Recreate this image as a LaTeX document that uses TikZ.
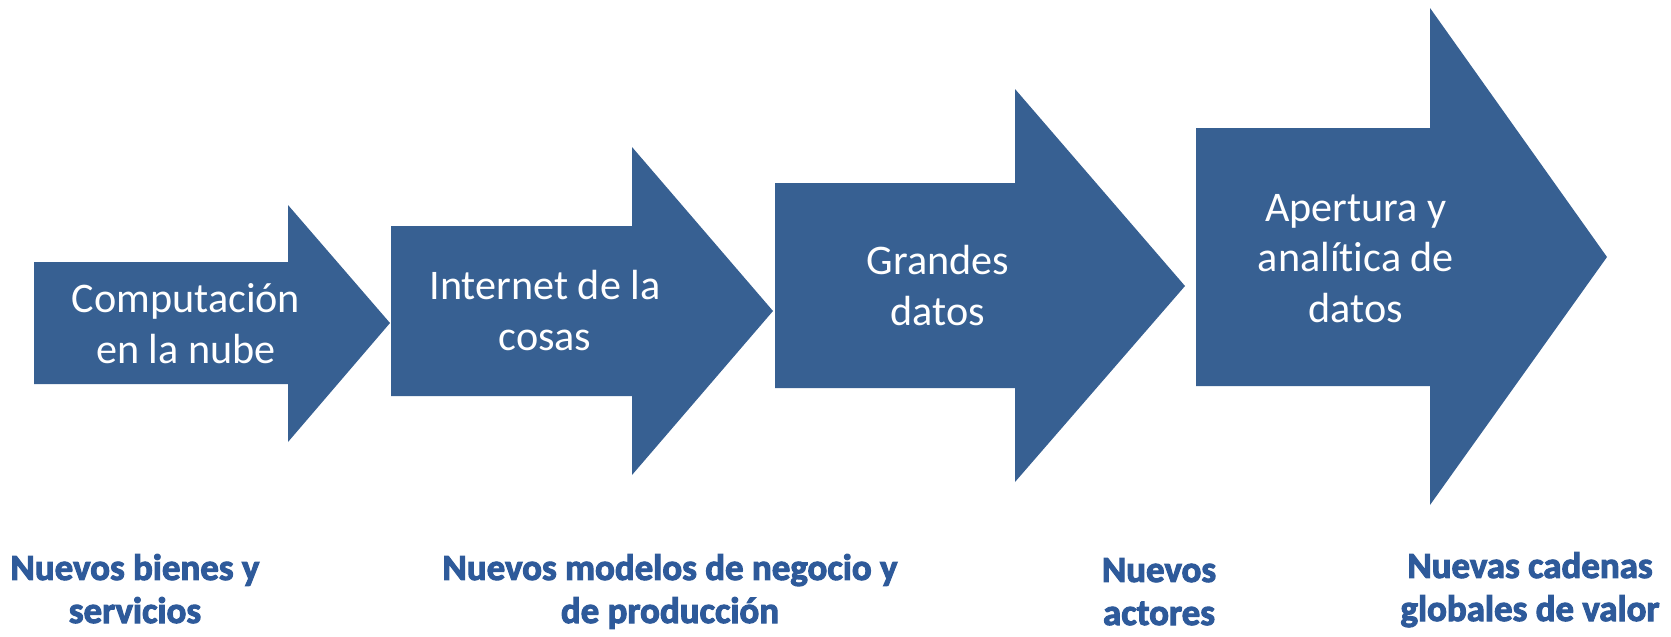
\documentclass[tikz,border=0pt]{standalone}
\usepackage{fontspec}
\setmainfont{Carlito}[Ligatures=NoCommon]
\definecolor{azulflecha}{HTML}{376092}
\definecolor{azultexto}{HTML}{2E5A9A}
% contorno oscuro del texto inferior
\newcommand{\contornoazul}{\special{pdf:literal direct 2 Tr 0.6 w 0.12 0.23 0.42 RG}}

\begin{document}
\begin{tikzpicture}[x=0.02cm,y=-0.02cm,
    rotulo/.style={text=white,align=center,anchor=base,inner sep=0pt,
      font=\fontsize{24}{28.5}\selectfont},
    efecto/.style={text=azultexto,align=center,anchor=base,inner sep=0pt,
      font=\bfseries\fontsize{21}{24.5}\selectfont\contornoazul}]
  \useasboundingbox (0,0) rectangle (1671,636);
  % flechas: cuerpo izq, arriba, abajo, base punta, punta arriba, punta abajo, vertice
  \foreach \xa/\ya/\yb/\xh/\yht/\yhb/\xt/\yt in
      {34/262/384/288/205/442/390/323,
       391/226/396/632/147/475/773/311,
       775/183/388/1015/89/482/1185/286,
       1196/128/386/1430/8/505/1607/257}
    \fill[azulflecha] (\xa,\ya) -- (\xh,\ya) -- (\xh,\yht) -- (\xt,\yt)
      -- (\xh,\yhb) -- (\xh,\yb) -- (\xa,\yb) -- cycle;
  % el ancla base queda en la ultima linea
  \node[rotulo](nube)at(186,363){Computación\\en la nube};
  \node[rotulo](cosas)at(545,350){Internet de la\\cosas};
  \node[rotulo](grandes)at(938,325){Grandes\\datos};
  \node[rotulo](apertura)at(1356,322){Apertura y\\analítica de\\datos};
  \node[efecto](bienes)at(135,623){Nuevos bienes y\\servicios};
  \node[efecto](modelos)at(670,623){Nuevos modelos de negocio y\\de producción};
  \node[efecto](actores)at(1159,625){Nuevos\\actores};
  \node[efecto](cadenas)at(1530,621){Nuevas cadenas\\globales de valor};
\end{tikzpicture}
\end{document}
